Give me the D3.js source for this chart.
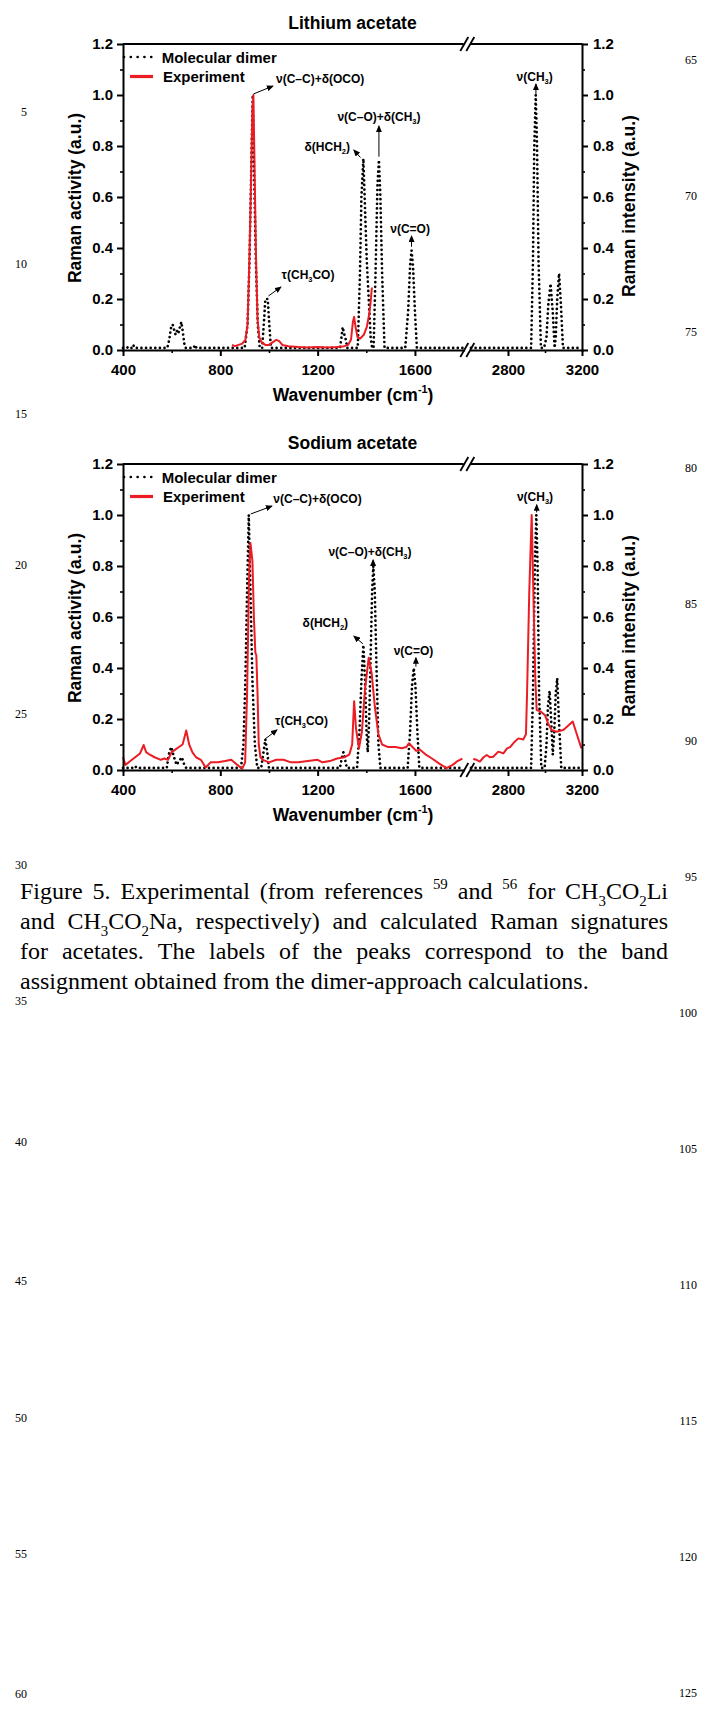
<!DOCTYPE html>
<html lang="en">
<head>
<meta charset="UTF-8">
<title>Raman signatures of acetates</title>
<script src="https://cdn.jsdelivr.net/npm/d3@7"></script>
<style>
    body { margin: 0; background: #fff; }
    svg { display: block; }
    .sans { font-family: "Liberation Sans", Arial, sans-serif; font-weight: bold; fill: #000; }
    .serif { font-family: "Liberation Serif", "Times New Roman", serif; fill: #000; }
    .axis path, .axis line { stroke: #000; }
    .axis text { font-family: "Liberation Sans", Arial, sans-serif; font-weight: bold; font-size: 15px; fill: #000; }
</style>
</head>
<body>
<script>
// ---- values ----
var yTicks = [0, 0.2, 0.4, 0.6, 0.8, 1.0, 1.2];
var yMinorTicks = [0.1, 0.3, 0.5, 0.7, 0.9, 1.1];
var xTicksLow = [400, 800, 1200, 1600];
var xMinorLow = [600, 1000, 1400];
var xTicksHigh = [2800, 3200];
var xMinorHigh = [3000];

// lithium acetate, calculated (dimer) spectrum
var liDimerLow = [[400,0.008],[416,0.008],[421,0.012],[426,0.008],[436,0.008],[442,0.02],[448,0.008],
    [582,0.008],[590,0.04],[598,0.09],[604,0.1],[610,0.08],[616,0.06],[622,0.075],[628,0.065],[634,0.09],[640,0.11],[646,0.07],[652,0.025],[658,0.008],
    [690,0.008],[696,0.02],[702,0.008],
    [900,0.008],[912,0.1],[920,0.35],[927,0.7],[933,1.0],[939,0.7],[946,0.35],[954,0.1],[962,0.008],
    [972,0.008],[980,0.12],[985,0.2],[995,0.2],[1000,0.12],[1008,0.008],
    [1292,0.008],[1298,0.05],[1303,0.09],[1310,0.06],[1316,0.04],[1322,0.008],
    [1365,0.008],[1374,0.3],[1380,0.6],[1388,0.75],[1395,0.55],[1402,0.35],[1410,0.2],[1418,0.05],[1424,0.008],
    [1430,0.008],[1438,0.3],[1446,0.65],[1452,0.745],[1458,0.6],[1465,0.3],[1475,0.008],
    [1560,0.008],[1572,0.15],[1580,0.33],[1586,0.39],[1592,0.33],[1600,0.15],[1608,0.008],
    [1800,0.008]];
var liDimerHigh = [[2600,0.008],[2925,0.008],[2935,0.35],[2942,0.8],[2950,1.0],[2957,0.8],[2965,0.35],[2978,0.008],
    [2995,0.008],[3008,0.05],[3018,0.18],[3030,0.26],[3042,0.15],[3052,0.008],
    [3058,0.05],[3066,0.2],[3076,0.3],[3086,0.18],[3097,0.008],[3200,0.008]];
// lithium acetate, experiment
var liExp = [[848,0.02],[860,0.015],[875,0.02],[890,0.025],[903,0.04],[912,0.1],[918,0.3],[925,0.6],[932,0.95],[936,1.0],
    [941,0.7],[947,0.35],[953,0.12],[960,0.05],[970,0.03],[985,0.02],[1000,0.02],[1015,0.03],[1030,0.04],[1042,0.035],
    [1055,0.02],[1080,0.015],[1120,0.012],[1160,0.01],[1200,0.012],[1240,0.01],[1280,0.012],[1310,0.015],[1325,0.02],
    [1337,0.04],[1345,0.11],[1350,0.13],[1356,0.09],[1364,0.05],[1375,0.045],[1390,0.06],[1402,0.09],[1412,0.14],
    [1418,0.19],[1423,0.245]];

// sodium acetate, calculated (dimer) spectrum
var naDimerLow = [[400,0.008],[446,0.008],[451,0.014],[456,0.008],
    [580,0.008],[588,0.06],[598,0.09],[610,0.05],[620,0.02],[630,0.035],[642,0.05],[652,0.02],[660,0.008],
    [885,0.008],[895,0.1],[903,0.35],[910,0.7],[917,1.0],[924,0.7],[932,0.35],[942,0.1],[952,0.008],
    [968,0.008],[976,0.06],[985,0.12],[993,0.07],[1000,0.008],
    [1292,0.008],[1300,0.05],[1306,0.07],[1313,0.04],[1320,0.008],
    [1362,0.008],[1372,0.15],[1380,0.35],[1388,0.49],[1395,0.35],[1401,0.15],[1406,0.07],[1412,0.2],[1418,0.45],
    [1424,0.7],[1429,0.8],[1435,0.7],[1442,0.4],[1450,0.1],[1458,0.008],
    [1570,0.008],[1580,0.15],[1588,0.33],[1595,0.4],[1602,0.33],[1610,0.15],[1618,0.008],
    [1800,0.008]];
var naDimerHigh = [[2600,0.008],[2925,0.008],[2935,0.3],[2945,0.8],[2953,1.0],[2960,0.8],[2968,0.3],[2980,0.008],
    [2998,0.008],[3008,0.1],[3016,0.25],[3025,0.31],[3033,0.2],[3042,0.06],[3050,0.15],[3058,0.3],[3066,0.36],
    [3075,0.2],[3088,0.008],[3200,0.008]];
// sodium acetate, experiment
var naExpLow = [[400,0.05],[410,0.02],[430,0.035],[450,0.05],[470,0.065],[485,0.098],[495,0.07],[510,0.06],[530,0.05],
    [555,0.04],[570,0.045],[585,0.04],[600,0.07],[615,0.08],[630,0.09],[645,0.1],[660,0.155],[672,0.1],[685,0.07],
    [700,0.05],[720,0.04],[740,0.01],[760,0.03],[790,0.03],[820,0.035],[845,0.04],[870,0.02],[890,0.005],[902,0.03],
    [910,0.3],[918,0.75],[924,0.89],[932,0.82],[938,0.6],[944,0.46],[948,0.45],[953,0.3],[958,0.1],[965,0.05],
    [975,0.04],[1000,0.03],[1030,0.04],[1060,0.04],[1090,0.03],[1120,0.03],[1160,0.035],[1200,0.04],[1220,0.03],
    [1250,0.035],[1280,0.045],[1310,0.05],[1330,0.06],[1342,0.1],[1350,0.27],[1358,0.16],[1370,0.085],[1382,0.15],
    [1395,0.32],[1410,0.44],[1422,0.38],[1435,0.25],[1450,0.14],[1465,0.1],[1490,0.09],[1520,0.09],[1545,0.085],
    [1565,0.09],[1575,0.105],[1590,0.09],[1605,0.075],[1620,0.08],[1645,0.06],[1670,0.045],[1700,0.025],[1730,0.007],
    [1755,0.02],[1775,0.035],[1795,0.045]];
var naExpHigh = [[2612,0.043],[2630,0.04],[2648,0.033],[2668,0.05],[2685,0.059],[2702,0.05],[2720,0.052],[2748,0.072],
    [2775,0.065],[2795,0.085],[2811,0.09],[2835,0.11],[2856,0.124],[2883,0.12],[2897,0.14],[2903,0.3],[2915,0.7],
    [2928,1.0],[2940,0.6],[2948,0.35],[2955,0.235],[2975,0.23],[3000,0.215],[3018,0.18],[3036,0.157],[3063,0.15],
    [3099,0.157],[3135,0.18],[3150,0.19],[3172,0.14],[3197,0.085]];

// peak assignments: label anchor, arrow from / to, in data units
var liLabels = [
    {text: "ν(C–C)+δ(OCO)", at: [1029, 1.047], anchor: "start", from: [936, 1.004], to: [1016, 1.035]},
    {text: "δ(HCH_2)", at: [1333, 0.78], anchor: "end", from: [1376, 0.755], to: [1349, 0.784]},
    {text: "ν(C–O)+δ(CH_3)", at: [1452, 0.898], anchor: "middle", from: [1452, 0.758], to: [1452, 0.878]},
    {text: "ν(C=O)", at: [1580, 0.459], anchor: "middle", from: [1586, 0.405], to: [1586, 0.447]},
    {text: "τ(CH_3CO)", at: [1052, 0.278], anchor: "start", from: [998, 0.212], to: [1049, 0.247]},
    {text: "ν(CH_3)", at: [2944, 1.055], anchor: "middle", from: [2951, 1.004], to: [2951, 1.043]}
];
var naLabels = [
    {text: "ν(C–C)+δ(OCO)", at: [1018, 1.047], anchor: "start", from: [925, 1.004], to: [1012, 1.035]},
    {text: "δ(HCH_2)", at: [1325, 0.561], anchor: "end", from: [1386, 0.495], to: [1349, 0.525]},
    {text: "ν(C–O)+δ(CH_3)", at: [1415, 0.839], anchor: "middle", from: [1428, 0.785], to: [1428, 0.824]},
    {text: "ν(C=O)", at: [1594, 0.451], anchor: "middle", from: [1604, 0.405], to: [1604, 0.44]},
    {text: "τ(CH_3CO)", at: [1025, 0.176], anchor: "start", from: [982, 0.12], to: [1033, 0.157]},
    {text: "ν(CH_3)", at: [2946, 1.055], anchor: "middle", from: [2955, 1.01], to: [2955, 1.04]}
];

var captionLines = [
    "Figure 5. Experimental (from references ^59 and ^56 for CH_3CO_2Li",
    "and CH_3CO_2Na, respectively) and calculated Raman signatures",
    "for acetates. The labels of the peaks correspond to the band",
    "assignment obtained from the dimer-approach calculations."
];
var leftLineNumbers = [5, 10, 15, 20, 25, 30, 35, 40, 45, 50, 55, 60];
var rightLineNumbers = [65, 70, 75, 80, 85, 90, 95, 100, 105, 110, 115, 120, 125];

// ---- layout ----
var W = 716, H = 1710;
var PLOT_L = 123, PLOT_R = 582, BREAK_L = 463.6, BREAK_R = 471;
var RED = "#ec1c24";
var DOTS = "0.01 4.6";
var leftNumY = [112, 264, 414, 565, 714, 865, 1001, 1142, 1281, 1418, 1554, 1694];
var rightNumY = d3.range(rightLineNumbers.length).map(function (i) { return 60 + i * 136.1; });

var svg = d3.select("body").append("svg")
    .attr("width", W)
    .attr("height", H);

svg.append("defs").append("marker")
    .attr("id", "arrow")
    .attr("markerUnits", "userSpaceOnUse")
    .attr("markerWidth", 7).attr("markerHeight", 6)
    .attr("refX", 6).attr("refY", 3)
    .attr("orient", "auto")
    .append("path")
    .attr("d", "M0,0 L7,3 L0,6 z")
    .attr("fill", "#000");

// "_x" -> subscript char, "^nn" -> superscript
function richText(sel, str, fs) {
    var re = /_(.)|\^([-\d]+)/g, last = 0, m, parts = [];
    while ((m = re.exec(str))) {
        if (m.index > last) parts.push({t: str.slice(last, m.index), k: 0});
        parts.push(m[1] ? {t: m[1], k: 0.28} : {t: m[2], k: -0.42});
        last = re.lastIndex;
    }
    if (last < str.length) parts.push({t: str.slice(last), k: 0});
    var shift = 0;
    parts.forEach(function (p) {
        var ts = sel.append("tspan").text(p.t);
        if (p.k !== 0) ts.attr("font-size", (fs * 0.62) + "px");
        if (p.k !== shift) ts.attr("dy", ((p.k - shift) * fs) + "px");
        shift = p.k;
    });
    return sel;
}

function drawPanel(p) {
    var g = svg.append("g");
    var xLow = d3.scaleLinear().domain([400, 1800]).range([PLOT_L, BREAK_L]);
    var xHigh = d3.scaleLinear().domain([2600, 3200]).range([BREAK_R, PLOT_R]);
    var y = d3.scaleLinear().domain([0, 1.2]).range([p.bottom, p.top]);
    var xPos = function (w) { return w > 2000 ? xHigh(w) : xLow(w); };

    // title
    g.append("text").attr("class", "sans")
        .attr("x", (PLOT_L + PLOT_R) / 2).attr("y", p.top - 15.5)
        .attr("text-anchor", "middle").attr("font-size", "17.5px")
        .text(p.title);

    // curves
    var lineLow = d3.line().x(function (d) { return xLow(d[0]); }).y(function (d) { return y(d[1]); });
    var lineHigh = d3.line().x(function (d) { return xHigh(d[0]); }).y(function (d) { return y(d[1]); });

    [[p.dimerLow, lineLow], [p.dimerHigh, lineHigh]].forEach(function (s) {
        g.append("path").datum(s[0])
            .attr("fill", "none").attr("stroke", "#000")
            .attr("stroke-width", 2.7)
            .attr("stroke-linecap", "round")
            .attr("stroke-dasharray", DOTS)
            .attr("d", s[1]);
    });
    [[p.expLow, lineLow], [p.expHigh, lineHigh]].forEach(function (s) {
        if (!s[0]) { return; }
        g.append("path").datum(s[0])
            .attr("fill", "none").attr("stroke", RED)
            .attr("stroke-width", 2)
            .attr("stroke-linejoin", "round")
            .attr("d", s[1]);
    });

    // axes
    function major(sel) { sel.selectAll(".tick line").attr("stroke-width", 2); sel.select(".domain").attr("stroke-width", 2).attr("stroke-linecap", "square"); }
    function minor(sel) { sel.select(".domain").remove(); sel.selectAll(".tick line").attr("stroke-width", 1.6); }

    g.append("g").attr("class", "axis")
        .attr("transform", "translate(" + PLOT_L + ",0)")
        .call(d3.axisLeft(y).tickValues(yTicks).tickSize(6).tickSizeOuter(0).tickPadding(4).tickFormat(d3.format(".1f")))
        .call(major);
    g.append("g").attr("class", "axis")
        .attr("transform", "translate(" + PLOT_L + ",0)")
        .call(d3.axisLeft(y).tickValues(yMinorTicks).tickSize(3).tickFormat(""))
        .call(minor);
    g.append("g").attr("class", "axis")
        .attr("transform", "translate(" + PLOT_R + ",0)")
        .call(d3.axisRight(y).tickValues(yTicks).tickSize(6).tickSizeOuter(0).tickPadding(5).tickFormat(d3.format(".1f")))
        .call(major);
    g.append("g").attr("class", "axis")
        .attr("transform", "translate(" + PLOT_R + ",0)")
        .call(d3.axisRight(y).tickValues(yMinorTicks).tickSize(3).tickFormat(""))
        .call(minor);

    [[xLow, xTicksLow, xMinorLow], [xHigh, xTicksHigh, xMinorHigh]].forEach(function (a) {
        g.append("g").attr("class", "axis")
            .attr("transform", "translate(0," + p.bottom + ")")
            .call(d3.axisBottom(a[0]).tickValues(a[1]).tickSize(6).tickSizeOuter(0).tickPadding(8).tickFormat(d3.format("d")))
            .call(major);
        g.append("g").attr("class", "axis")
            .attr("transform", "translate(0," + p.bottom + ")")
            .call(d3.axisBottom(a[0]).tickValues(a[2]).tickSize(3).tickFormat(""))
            .call(minor);
        // top frame
        g.append("line")
            .attr("x1", a[0].range()[0]).attr("x2", a[0].range()[1])
            .attr("y1", p.top).attr("y2", p.top)
            .attr("stroke", "#000").attr("stroke-width", 2);
    });

    // axis break marks
    var bx = (BREAK_L + BREAK_R) / 2;
    [p.top, p.bottom].forEach(function (by) {
        [-3, 3].forEach(function (dx) {
            g.append("line")
                .attr("x1", bx + dx - 4).attr("y1", by + 7)
                .attr("x2", bx + dx + 4).attr("y2", by - 7)
                .attr("stroke", "#000").attr("stroke-width", 1.8);
        });
    });

    // axis titles
    richText(g.append("text").attr("class", "sans")
        .attr("x", (PLOT_L + PLOT_R) / 2 + 0.5).attr("y", p.bottom + 50.8)
        .attr("text-anchor", "middle").attr("font-size", "17.5px"), "Wavenumber (cm^-1)", 17.5);
    g.append("text").attr("class", "sans")
        .attr("transform", "translate(81.3," + (p.top + 154) + ")rotate(-90)")
        .attr("text-anchor", "middle").attr("font-size", "17.5px")
        .text("Raman activity (a.u.)");
    g.append("text").attr("class", "sans")
        .attr("transform", "translate(634.8," + (p.top + 162) + ")rotate(-90)")
        .attr("text-anchor", "middle").attr("font-size", "17.5px")
        .text("Raman intensity (a.u.)");

    // legend
    var legY = p.top + 13;
    g.append("line")
        .attr("x1", PLOT_L + 1).attr("x2", PLOT_L + 29)
        .attr("y1", legY).attr("y2", legY)
        .attr("stroke", "#000").attr("stroke-width", 2.7)
        .attr("stroke-linecap", "round").attr("stroke-dasharray", "0.01 6.8");
    g.append("text").attr("class", "sans")
        .attr("x", PLOT_L + 38.7).attr("y", legY + 5.5)
        .attr("font-size", "15px").text("Molecular dimer");
    g.append("line")
        .attr("x1", PLOT_L + 7).attr("x2", PLOT_L + 30)
        .attr("y1", legY + 19.5).attr("y2", legY + 19.5)
        .attr("stroke", RED).attr("stroke-width", 3.2);
    g.append("text").attr("class", "sans")
        .attr("x", PLOT_L + 40).attr("y", legY + 24.5)
        .attr("font-size", "15px").text("Experiment");

    // peak labels
    p.labels.forEach(function (l) {
        richText(g.append("text").attr("class", "sans")
            .attr("x", xPos(l.at[0])).attr("y", y(l.at[1]))
            .attr("text-anchor", l.anchor).attr("font-size", "12px"), l.text, 12);
        g.append("line")
            .attr("x1", xPos(l.from[0])).attr("y1", y(l.from[1]))
            .attr("x2", xPos(l.to[0])).attr("y2", y(l.to[1]))
            .attr("stroke", "#000").attr("stroke-width", 1)
            .attr("marker-end", "url(#arrow)");
    });
}

drawPanel({title: "Lithium acetate", top: 44, bottom: 350,
    dimerLow: liDimerLow, dimerHigh: liDimerHigh, expLow: liExp, expHigh: null, labels: liLabels});
drawPanel({title: "Sodium acetate", top: 464, bottom: 770,
    dimerLow: naDimerLow, dimerHigh: naDimerHigh, expLow: naExpLow, expHigh: naExpHigh, labels: naLabels});

// caption, justified like the journal column
var CAP_L = 20, CAP_R = 668, CAP_Y = 899, CAP_LEAD = 30, CAP_FS = 24;
captionLines.forEach(function (line, i) {
    var words = line.split(" ");
    var nodes = words.map(function (w) {
        var t = svg.append("text").attr("class", "serif")
            .attr("y", CAP_Y + i * CAP_LEAD).attr("font-size", CAP_FS + "px");
        return richText(t, w, CAP_FS);
    });
    var widths = nodes.map(function (n) { return n.node().getComputedTextLength(); });
    var last = i === captionLines.length - 1;
    var gap = last ? CAP_FS * 0.25 : (CAP_R - CAP_L - d3.sum(widths)) / (words.length - 1);
    var x = CAP_L;
    nodes.forEach(function (n, j) { n.attr("x", x); x += widths[j] + gap; });
});

// page line numbers
leftLineNumbers.forEach(function (n, i) {
    svg.append("text").attr("class", "serif")
        .attr("x", 27).attr("y", leftNumY[i] + 4)
        .attr("text-anchor", "end").attr("font-size", "12px").attr("fill", "#222")
        .text(n);
});
rightLineNumbers.forEach(function (n, i) {
    svg.append("text").attr("class", "serif")
        .attr("x", 697).attr("y", rightNumY[i] + 4)
        .attr("text-anchor", "end").attr("font-size", "12px").attr("fill", "#222")
        .text(n);
});
</script>
</body>
</html>
